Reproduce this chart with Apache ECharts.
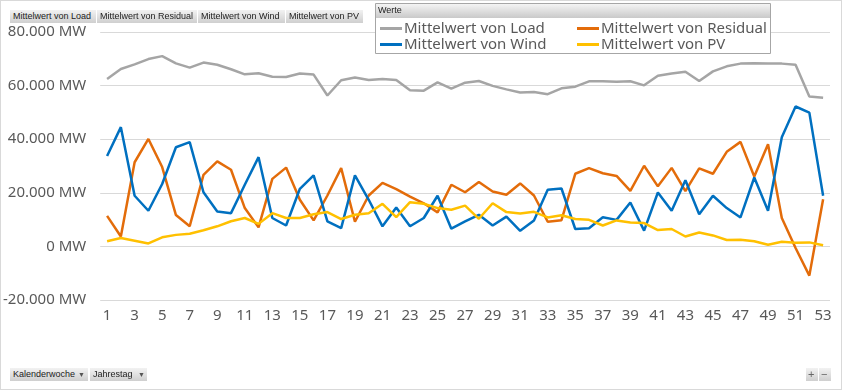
<!DOCTYPE html>
<html>
<head>
<meta charset="utf-8">
<script src="https://cdn.jsdelivr.net/npm/echarts@6/dist/echarts.min.js"></script>
<style>
  html, body { margin: 0; padding: 0; background: #fff; }
  #wrap { position: relative; width: 842px; height: 390px; overflow: hidden; }
  #frame { position: absolute; left: 0; top: 0; width: 840px; height: 388px; border: 1px solid #d9d9d9; box-sizing: content-box; }
  #chart { position: absolute; left: 0; top: 0; width: 842px; height: 390px; }
  .btn { position: absolute; height: 13px; line-height: 13px; font-family: "Liberation Sans", Arial, sans-serif; font-size: 9px; color: #222;
         background: linear-gradient(#f2f2f2, #cfcfcf); box-sizing: border-box; padding-left: 3px; white-space: nowrap; }
  .arr { position: absolute; font-size: 7px; color: #555; top: 0; }
</style>
</head>
<body>
<div id="wrap">
  <div id="frame"></div>
  <div id="chart"></div>
  <div class="btn" style="left:10px;top:10px;width:86px;">Mittelwert von Load</div>
  <div class="btn" style="left:97px;top:10px;width:100px;">Mittelwert von Residual</div>
  <div class="btn" style="left:198px;top:10px;width:87px;">Mittelwert von Wind</div>
  <div class="btn" style="left:286px;top:10px;width:77px;">Mittelwert von PV</div>
  <div class="btn" style="left:10px;top:368px;width:78px;">Kalenderwoche<span class="arr" style="left:68px;">&#9660;</span></div>
  <div class="btn" style="left:90px;top:368px;width:57px;">Jahrestag<span class="arr" style="left:48px;">&#9660;</span></div>
  <div class="btn" style="left:806px;top:368px;width:12px;padding-left:2px;font-size:11px;color:#666;">+</div>
  <div class="btn" style="left:819px;top:368px;width:12px;padding-left:2px;font-size:11px;color:#666;">&#8722;</div>
</div>
<script>
// ---- data ----
const weeks = Array.from({length: 53}, (_, i) => String(i + 1));
const loadVals = [62500, 66200, 67900, 69900, 71000, 68300, 66700, 68600, 67800, 66100,
  64200, 64600, 63300, 63200, 64500, 64100, 56300, 62000, 63000, 62100,
  62500, 62100, 58300, 58100, 61200, 58900, 61100, 61700, 59900, 58600,
  57400, 57600, 56800, 59000, 59600, 61600, 61600, 61400, 61600, 60100,
  63700, 64500, 65200, 61700, 65300, 67200, 68200, 68300, 68200, 68200,
  67800, 55900, 55500];
const residualVals = [11400, 3700, 31400, 40100, 29600, 11700, 7500, 26700, 31700, 28600,
  14300, 7100, 25200, 29400, 17400, 9700, 19000, 29200, 9200, 19000,
  23700, 21400, 18600, 16100, 12700, 23000, 20200, 24000, 20500, 19300,
  23500, 19000, 9200, 9800, 27100, 29200, 27300, 26300, 20700, 30100,
  22400, 29300, 20600, 29100, 27100, 35300, 39000, 26100, 38100, 10600,
  -600, -10900, 17600];
const windVals = [33700, 44500, 18900, 13300, 23300, 37000, 38900, 20200, 13000, 12400,
  23000, 33300, 10600, 7800, 21500, 26500, 9300, 6800, 26500, 17400,
  7500, 14500, 7500, 10600, 18900, 6600, 9300, 11800, 7800, 11100,
  5800, 9700, 21100, 21600, 6500, 6800, 10900, 9900, 16400, 5900,
  20100, 13300, 24700, 12000, 18900, 14300, 10800, 25700, 13300, 40700,
  52200, 49900, 18900];
const pvVals = [1900, 3100, 2100, 1100, 3400, 4300, 4700, 6000, 7500, 9400,
  10600, 8400, 12400, 10600, 10600, 12000, 12800, 10200, 11800, 12400,
  15900, 10900, 16500, 15900, 14300, 13700, 15200, 10300, 16100, 12800,
  12300, 12900, 10800, 11600, 10200, 9900, 7800, 9700, 8900, 8700,
  6100, 6500, 3700, 5200, 4100, 2400, 2500, 1900, 600, 1700,
  1400, 1500, 400];
const seriesNames = ['Mittelwert von Load', 'Mittelwert von Residual', 'Mittelwert von Wind', 'Mittelwert von PV'];
const yTicks = { min: -20000, max: 80000, step: 20000 };

// ---- chart ----
const colors = ['#a5a5a5', '#e36c0a', '#0070c0', '#ffc000'];
const font = '"Noto Sans", "Open Sans", sans-serif';
const chart = echarts.init(document.getElementById('chart'), null, { renderer: 'canvas' });
function fmt(v) {
  const s = Math.abs(v).toString().replace(/\B(?=(\d{3})+(?!\d))/g, '.');
  return (v < 0 ? '-' : '') + s + ' MW';
}
const legendPos = [[380, 21], [577, 21], [380, 37], [577, 37]];
const legends = seriesNames.map((n, i) => ({
  data: [n], left: legendPos[i][0], top: legendPos[i][1], padding: 0, z: 30,
  icon: 'rect', itemWidth: 22, itemHeight: 3,
  textStyle: { fontFamily: font, fontSize: 15, color: '#595959', padding: [0, 0, 0, -3] },
  selectedMode: false
}));
const vals = [loadVals, residualVals, windVals, pvVals];
chart.setOption({
  animation: false,
  color: colors,
  grid: { left: 100, right: 12, top: 32, bottom: 90 },
  legend: legends,
  graphic: [
    { type: 'rect', z: 20, left: 375, top: 3, shape: { width: 395, height: 50 },
      style: { fill: '#fff', stroke: '#a6a6a6', lineWidth: 1 } },
    { type: 'rect', z: 21, left: 376, top: 4, shape: { width: 394, height: 14 },
      style: { fill: new echarts.graphic.LinearGradient(0, 0, 0, 1, [
        { offset: 0, color: '#f4f4f4' }, { offset: 1, color: '#c9c9c9' }]) } },
    { type: 'text', z: 22, left: 378, top: 6,
      style: { text: 'Werte', fontFamily: '"Liberation Sans", Arial, sans-serif', fontSize: 9, fill: '#222' } }
  ],
  xAxis: {
    type: 'category', data: weeks, boundaryGap: true,
    axisLine: { show: false }, axisTick: { show: false },
    axisLabel: { interval: 1, fontFamily: font, fontSize: 15, color: '#595959', margin: 8 }
  },
  yAxis: {
    type: 'value', min: yTicks.min, max: yTicks.max, interval: yTicks.step,
    axisLine: { show: false }, axisTick: { show: false },
    splitLine: { lineStyle: { color: '#d9d9d9', width: 1 } },
    axisLabel: { formatter: fmt, fontFamily: font, fontSize: 15, color: '#595959', margin: 14 }
  },
  series: seriesNames.map((n, i) => ({
    name: n, type: 'line', data: vals[i], symbol: 'none',
    lineStyle: { width: 2.5, color: colors[i] }, itemStyle: { color: colors[i] },
    z: 2
  }))
});
</script>
</body>
</html>
